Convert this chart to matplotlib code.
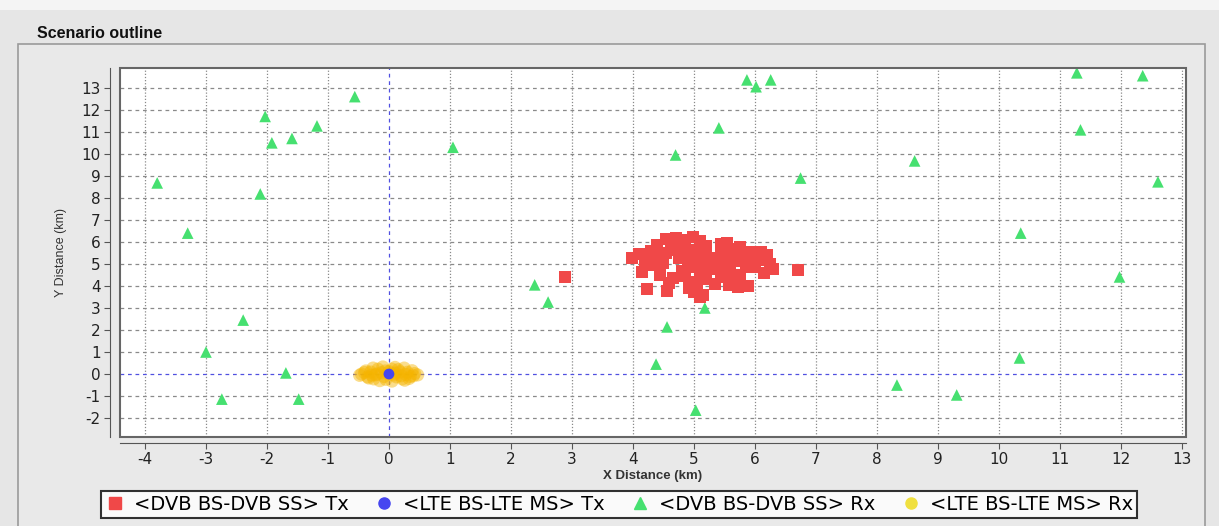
import matplotlib
matplotlib.use('Agg')
import matplotlib.pyplot as plt
from matplotlib.lines import Line2D
from matplotlib.patches import Rectangle

plt.rcParams['font.family'] = ['Liberation Sans', 'DejaVu Sans']
plt.rcParams['axes.unicode_minus'] = False

# <DVB BS-DVB SS> Tx  (red squares)
tx_dvb_x = [2.88, 6.70,
            4.55, 4.70, 4.85, 4.98, 5.10, 4.40, 4.62, 4.80, 5.20,
            5.45, 5.55, 5.62, 5.50, 5.75,
            5.95, 6.10, 6.20, 6.05, 6.25, 6.30, 6.15, 5.95, 6.00,
            3.98, 4.10, 4.20, 4.30, 4.40, 4.50, 4.55, 4.68, 4.75, 4.85, 4.90, 5.00,
            5.05, 5.15, 5.20, 5.30, 5.35, 5.45, 5.55, 5.65, 5.70, 5.80, 5.85, 4.30,
            4.80, 5.00, 5.25,
            4.15, 4.45, 4.65, 4.85, 4.95, 5.10, 5.20, 5.45, 5.60, 5.75, 5.50, 5.05,
            4.60, 4.92,
            4.23, 4.56, 5.00, 5.10, 5.15, 5.58, 5.72, 5.88, 5.35]
tx_dvb_y = [4.42, 4.72,
            6.15, 6.20, 6.10, 6.22, 6.05, 5.85, 5.90, 5.95, 5.80,
            5.90, 5.95, 5.70, 5.60, 5.75,
            5.55, 5.55, 5.40, 5.20, 5.00, 4.78, 4.60, 4.85, 5.05,
            5.25, 5.45, 5.10, 5.60, 5.30, 5.05, 5.50, 5.65, 5.25, 5.45, 5.00, 5.65,
            5.30, 5.10, 5.50, 5.25, 4.95, 5.35, 5.10, 5.40, 5.15, 5.45, 5.05, 4.95,
            4.70, 4.85, 4.75,
            4.62, 4.50, 4.35, 4.45, 4.20, 4.55, 4.30, 4.42, 4.60, 4.50, 4.70, 4.00,
            4.12, 3.90,
            3.86, 3.78, 3.72, 3.50, 3.60, 4.05, 3.95, 3.98, 4.10]

# <LTE BS-LTE MS> Tx  (blue circle)
tx_lte_x = [0.0]
tx_lte_y = [0.0]

# <DVB BS-DVB SS> Rx  (green triangles)
rx_dvb_x = [-3.80, -3.30, -2.39, -3.00, -2.74, -1.69, -1.48, -2.03, -1.92, -1.59,
            -1.18, -0.56, -2.11, 1.05, 2.39, 2.61, 4.70, 5.41, 5.87, 6.02,
            6.26, 6.75, 4.56, 5.18, 4.38, 5.03, 8.62, 8.33, 9.31, 10.36,
            10.34, 11.28, 12.36, 11.34, 12.61, 11.98]
rx_dvb_y = [8.68, 6.40, 2.45, 1.00, -1.14, 0.05, -1.14, 11.70, 10.50, 10.70,
            11.27, 12.60, 8.18, 10.30, 4.05, 3.27, 9.95, 11.18, 13.36, 13.05,
            13.36, 8.90, 2.14, 3.00, 0.45, -1.64, 9.68, -0.50, -0.95, 6.40,
            0.73, 13.68, 13.55, 11.09, 8.73, 4.41]

# <LTE BS-LTE MS> Rx  (yellow points around the LTE BS)
rx_lte_x = [0.00, 0.10, -0.12, 0.20, -0.22, 0.30, -0.30, 0.35, -0.35, 0.05,
            -0.05, 0.15, -0.18, 0.22, -0.25, 0.42, -0.45, 0.38, -0.38, 0.33,
            -0.33, 0.10, -0.10, 0.05, -0.15, 0.25, -0.26, 0.26, 0.47, -0.48,
            0.00, 0.12, -0.08, 0.18, -0.20, 0.08, -0.06, 0.28, -0.28, 0.40,
            -0.40]
rx_lte_y = [0.00, 0.04, 0.06, -0.08, -0.04, 0.08, 0.09, -0.11, -0.13, 0.22,
            -0.24, 0.20, 0.22, -0.22, -0.22, 0.02, 0.00, 0.15, 0.14, -0.20,
            -0.18, 0.30, 0.32, -0.32, -0.30, 0.27, 0.27, -0.28, -0.04, -0.06,
            0.11, -0.13, -0.11, 0.10, 0.00, -0.04, 0.14, -0.02, -0.05, -0.08,
            0.07]

labels = ['<DVB BS-DVB SS> Tx', '<LTE BS-LTE MS> Tx',
          '<DVB BS-DVB SS> Rx', '<LTE BS-LTE MS> Rx']
red = '#f04848'
blue = '#4646f0'
green = '#46e070'
yellow = '#f5b400'

fig = plt.figure(figsize=(12.19, 5.26), dpi=100, facecolor='#e6e6e6')
# panel look
fig.patches.append(Rectangle((0, 1 - 10 / 526), 1, 10 / 526, transform=fig.transFigure,
                             facecolor='#f4f4f4', edgecolor='none', zorder=-10))
fig.patches.append(Rectangle((18 / 1219, -0.01), (1205 - 18) / 1219, (526 - 44) / 526 + 0.01,
                             transform=fig.transFigure, facecolor='#e9e9e9',
                             edgecolor='#9a9a9a', lw=1.2, zorder=-10))
fig.text(37 / 1219, 1 - 33 / 526, 'Scenario outline', fontsize=11.5, fontweight='bold',
         va='center', ha='left', color='#111111')

ax = fig.add_axes([120 / 1219, 1 - 437 / 526, (1186 - 120) / 1219, (437 - 68) / 526])
ax.set_zorder(2)
ax.set_facecolor('white')
ax.set_xlim(-4.41, 13.07)
ax.set_ylim(-2.86, 13.9)
ax.set_xticks(range(-4, 14))
ax.set_yticks(range(-2, 14))

for v in range(-4, 14):
    c = '#5050e0' if v == 0 else '#8a8a8a'
    ls = (0, (3, 3)) if v == 0 else (0, (1, 1.5))
    ax.axvline(v, color=c, lw=0.9, ls=ls, zorder=1)
for v in range(-2, 14):
    c = '#5050e0' if v == 0 else '#8a8a8a'
    ax.axhline(v, color=c, lw=0.9, ls=(0, (3, 3)), zorder=1)

ax.scatter(rx_lte_x, rx_lte_y, s=90, c=yellow, alpha=0.45, edgecolors='none', zorder=3)
ax.scatter(rx_dvb_x, rx_dvb_y, s=70, marker='^', c=green, edgecolors='none', zorder=4)
ax.scatter(tx_dvb_x, tx_dvb_y, s=75, marker='s', c=red, edgecolors='none', zorder=5)
ax.scatter(tx_lte_x, tx_lte_y, s=60, marker='o', c=blue, edgecolors='none', zorder=6)

for side in ['top', 'right']:
    ax.spines[side].set_visible(False)
ax.spines['left'].set_position(('outward', 7))
ax.spines['bottom'].set_position(('outward', 4))
ax.spines['left'].set_color('#555555')
ax.spines['bottom'].set_color('#555555')
ax.add_patch(Rectangle((0, 0), 1, 1, transform=ax.transAxes, fill=False,
                       edgecolor='#666666', lw=1.5, clip_on=False, zorder=10))
ax.tick_params(direction='out', length=4, color='#555555', labelsize=11,
               labelcolor='#222222', pad=3)
for t in ax.get_xticklabels() + ax.get_yticklabels():
    t.set_family('DejaVu Sans')
ax.set_xlabel('X Distance (km)', fontsize=9.5, labelpad=2, fontweight='bold', color='#333333')
ax.set_ylabel('Y Distance (km)', fontsize=9, labelpad=10, color='#333333')

handles = [Line2D([], [], ls='none', marker='s', color=red, ms=8),
           Line2D([], [], ls='none', marker='o', color=blue, ms=8),
           Line2D([], [], ls='none', marker='^', color=green, ms=8),
           Line2D([], [], ls='none', marker='o', color='#f0e040', ms=8)]
leg = fig.legend(handles, labels, ncol=4, loc='center', bbox_to_anchor=(619 / 1219, 1 - 504.5 / 526),
                 prop={'family': 'DejaVu Sans', 'size': 14}, frameon=True, fancybox=False,
                 edgecolor='black', handletextpad=0.5, columnspacing=1.3, borderpad=0.2,
                 handlelength=1.0, borderaxespad=0)
leg.get_frame().set_linewidth(1.5)

fig.savefig('out.png', dpi=100, facecolor=fig.get_facecolor())
